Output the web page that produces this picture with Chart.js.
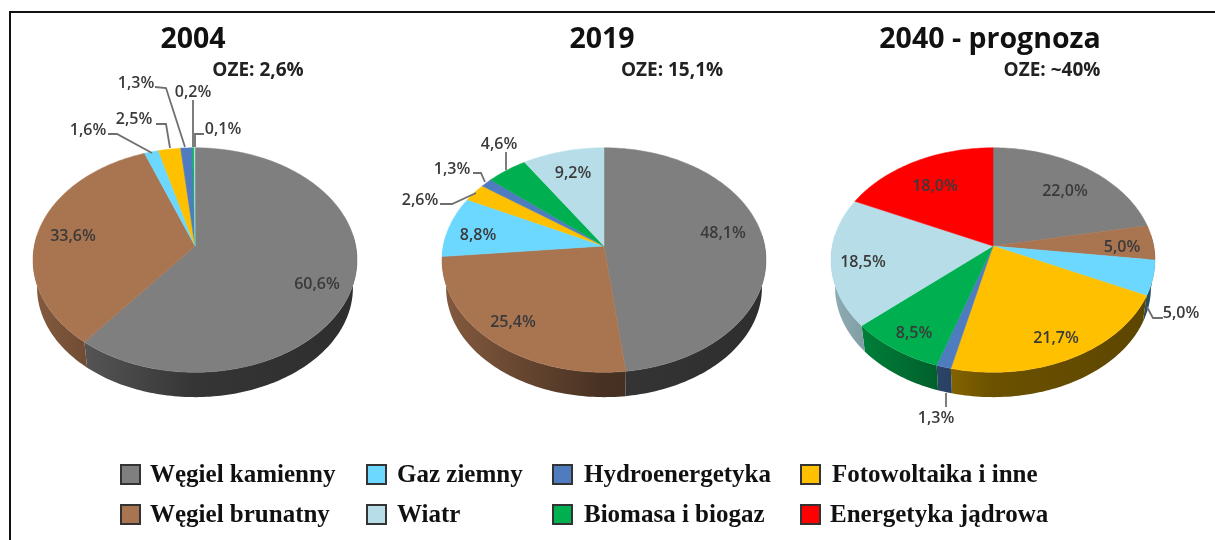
<!DOCTYPE html>
<html lang="pl">
<head>
<meta charset="utf-8">
<title>Miks energetyczny</title>
<script src="https://cdn.jsdelivr.net/npm/chart.js@4"></script>
<style>
    html, body { margin: 0; background: #fff; overflow: hidden; }
    #page { position: relative; width: 1215px; height: 540px; filter: blur(0.5px); }
    #frame { position: absolute; left: 9px; top: 11px; right: -4px; bottom: -4px; border: 2px solid #111; }
    canvas { position: absolute; left: 0; top: 0; }
    .title, .oze { position: absolute; font-family: "Open Sans", sans-serif; font-weight: 700; white-space: nowrap; transform: translate(-50%, -50%); }
    .title { font-size: 28.5px; color: #111; }
    .oze { font-size: 19px; color: #222; }
    .swatch { position: absolute; width: 17px; height: 17px; border: 2px solid #333; }
    .legend-text { position: absolute; font-family: "Liberation Serif", serif; font-weight: 700; font-size: 25px; color: #111; white-space: nowrap; transform: translateY(-50%); }
</style>
</head>
<body>
<div id="page"><div id="frame"></div></div>
<script>
const categories = ['Węgiel kamienny', 'Węgiel brunatny', 'Gaz ziemny', 'Fotowoltaika i inne', 'Hydroenergetyka', 'Biomasa i biogaz', 'Wiatr', 'Energetyka jądrowa'];
const colors = ['#7f7f7f', '#a97450', '#6dd8ff', '#ffc000', '#4f7cbf', '#00b050', '#b7dee8', '#ff0000'];

const values2004 = [60.6, 33.6, 1.6, 2.5, 1.3, 0.2, 0.1, 0];
const values2019 = [48.1, 25.4, 8.8, 2.6, 1.3, 4.6, 9.2, 0];
const values2040 = [22.0, 5.0, 5.0, 21.7, 1.3, 8.5, 18.5, 18.0];

const titles = ['2004', '2019', '2040 - prognoza'];
const ozeLabels = ['OZE: 2,6%', 'OZE: 15,1%', 'OZE: ~40%'];

// layout
const titleX = [193, 602, 990];
const ozeX = [258, 672, 1052];
const pieX = [195, 604, 993];
const pieY = 246;
const radiusX = 160.7, radiusY = 110.5, tilt = 0.125;
const wallDrop = 28, wallShrink = 0.975;

const labelPos2004 = [[317, 284], [73, 236], [88, 130], [134, 119], [136, 83], [193, 92], [223, 129]];
const labelPos2019 = [[723, 233], [513, 322], [478, 235], [420, 200], [452, 169], [499, 144], [573, 173]];
const labelPos2040 = [[1065, 191], [1122, 247], [1181, 313], [1056, 338], [936, 418], [914, 333], [863, 262], [935, 186]];

const leaders2004 = [
    [[108, 134], [117, 134], [152, 153]],
    [[156, 124], [166, 124], [170, 148]],
    [[155, 87], [166, 88], [185, 147]],
    [[193, 100], [193, 147]],
    [[204, 134], [195, 134], [195, 147]]
];
const leaders2019 = [
    [[440, 204], [452, 204], [476, 193]],
    [[473, 173], [481, 173], [485, 182]],
    [[506, 152], [506, 170]]
];
const leaders2040 = [
    [[1163, 318], [1153, 318], [1147, 307]],
    [[946, 393], [946, 407]]
];

const legendRows = [
    [[0, 120, 150], [2, 366, 397], [4, 552, 584], [3, 800, 832]],
    [[1, 120, 150], [6, 366, 397], [5, 552, 584], [7, 800, 830]]
];
const legendY = [474, 514];

function shade(hex, f) {
    const n = parseInt(hex.slice(1), 16);
    return `rgb(${Math.round((n >> 16) * f)}, ${Math.round(((n >> 8) & 255) * f)}, ${Math.round((n & 255) * f)})`;
}

function project(cx, angle, scale, drop) {
    const ux = Math.cos(angle), uy = Math.sin(angle);
    const w = 1 - tilt * uy;
    return [cx + scale * radiusX * ux / w, pieY + drop + scale * radiusY * uy / w];
}

function traceArc(ctx, cx, from, to, scale, drop) {
    const steps = Math.max(2, Math.ceil(Math.abs(to - from) / 0.02));
    for (let i = 0; i <= steps; i++) {
        const p = project(cx, from + (to - from) * i / steps, scale, drop);
        ctx.lineTo(p[0], p[1]);
    }
}

const pie3d = {
    id: 'pie3d',
    beforeDatasetsDraw(chart, args, opts) {
        const ctx = chart.ctx;
        const cx = opts.cx;
        const arcs = chart.getDatasetMeta(0).data;
        ctx.save();

        // side wall first, only the part facing us
        arcs.forEach((arc, i) => {
            const from = Math.max(arc.startAngle, -0.1);
            const to = Math.min(arc.endAngle, Math.PI + 0.1);
            if (to <= from) return;
            const grad = ctx.createLinearGradient(cx - radiusX, 0, cx + radiusX, 0);
            grad.addColorStop(0, shade(colors[i], 0.78));
            grad.addColorStop(0.5, shade(colors[i], 0.42));
            grad.addColorStop(1, shade(colors[i], 0.36));
            ctx.beginPath();
            traceArc(ctx, cx, from, to, 1, 0);
            traceArc(ctx, cx, to, from, wallShrink, wallDrop);
            ctx.closePath();
            ctx.fillStyle = grad;
            ctx.fill();
        });

        // top face
        arcs.forEach((arc, i) => {
            if (arc.endAngle <= arc.startAngle) return;
            ctx.beginPath();
            ctx.moveTo(cx, pieY);
            traceArc(ctx, cx, arc.startAngle, arc.endAngle, 1, 0);
            ctx.closePath();
            ctx.fillStyle = colors[i];
            ctx.strokeStyle = colors[i];
            ctx.lineWidth = 0.5;
            ctx.fill();
            ctx.stroke();
        });

        // leader lines and value labels
        ctx.lineWidth = 1.8;
        ctx.strokeStyle = '#6f6f6f';
        opts.leaders.forEach(line => {
            ctx.beginPath();
            line.forEach(p => ctx.lineTo(p[0], p[1]));
            ctx.stroke();
        });
        ctx.font = '600 16px "Open Sans", sans-serif';
        ctx.textAlign = 'center';
        ctx.textBaseline = 'middle';
        ctx.fillStyle = '#3a3a3a';
        chart.data.datasets[0].data.filter(v => v > 0).forEach((v, i) => {
            const text = v.toFixed(1).replace('.', ',') + '%';
            ctx.fillText(text, opts.labels[i][0], opts.labels[i][1]);
        });

        ctx.restore();
        return false;
    }
};

function addPie(values, cx, labels, leaders) {
    const canvas = document.createElement('canvas');
    canvas.width = 1215;
    canvas.height = 540;
    document.getElementById('page').appendChild(canvas);
    new Chart(canvas.getContext('2d'), {
        type: 'pie',
        data: {
            labels: categories,
            datasets: [{ data: values, backgroundColor: colors, borderWidth: 0 }]
        },
        options: {
            responsive: false,
            animation: false,
            events: [],
            plugins: {
                legend: { display: false },
                tooltip: { enabled: false },
                pie3d: { cx: cx, labels: labels, leaders: leaders }
            }
        },
        plugins: [pie3d]
    });
}

function addText(cls, text, x, y) {
    const el = document.createElement('div');
    el.className = cls;
    el.textContent = text;
    el.style.left = x + 'px';
    el.style.top = y + 'px';
    document.getElementById('page').appendChild(el);
}

addPie(values2004, pieX[0], labelPos2004, leaders2004);
addPie(values2019, pieX[1], labelPos2019, leaders2019);
addPie(values2040, pieX[2], labelPos2040, leaders2040);

titles.forEach((t, i) => addText('title', t, titleX[i], 37));
ozeLabels.forEach((t, i) => addText('oze', t, ozeX[i], 69));

legendRows.forEach((row, r) => {
    row.forEach(item => {
        const sw = document.createElement('div');
        sw.className = 'swatch';
        sw.style.left = item[1] + 'px';
        sw.style.top = (legendY[r] - 10) + 'px';
        sw.style.background = colors[item[0]];
        document.getElementById('page').appendChild(sw);
        addText('legend-text', categories[item[0]], item[2], legendY[r]);
    });
});
</script>
</body>
</html>
